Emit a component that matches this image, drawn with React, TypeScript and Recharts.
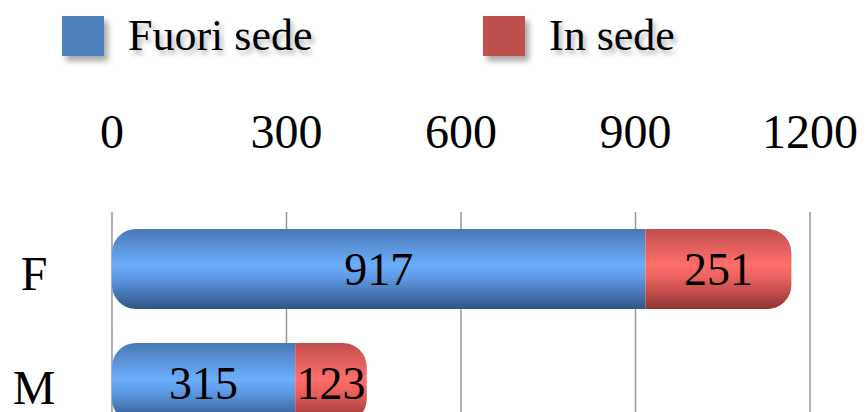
import React from 'react';
import { BarChart, Bar, XAxis, YAxis, CartesianGrid, Legend, LabelList } from 'recharts';

const categories = ['F', 'M'];
const fuoriSede = [917, 315];
const inSede = [251, 123];
const ticks = [0, 300, 600, 900, 1200];

const data = categories.map((name, i) => ({ name, fuori: fuoriSede[i], sede: inSede[i] }));

const FONT = "'Liberation Serif', 'DejaVu Serif', serif";

function CatTick({ y, payload }: any) {
  return (
    <text x={34} y={y + 4} textAnchor="middle" dominantBaseline="central" fontFamily={FONT} fontSize={48} fill="#000">
      {payload.value}
    </text>
  );
}

function LegendBox() {
  const item = (left: number, color: string, label: string) => (
    <div style={{ position: 'absolute', left, top: 16, display: 'flex', alignItems: 'center' }}>
      <div style={{ width: 42, height: 40, background: color, boxShadow: '4px 5px 6px rgba(0,0,0,0.35)' }} />
      <span style={{ marginLeft: 24, fontFamily: FONT, fontSize: 44, lineHeight: '40px', color: '#000', textShadow: '3px 4px 5px rgba(0,0,0,0.3)' }}>
        {label}
      </span>
    </div>
  );
  return (
    <div style={{ position: 'relative', width: 868, height: 70 }}>
      {item(62, '#4f81bd', 'Fuori sede')}
      {item(483, '#c0504d', 'In sede')}
    </div>
  );
}

export default function App() {
  return (
    <div style={{ position: 'fixed', left: 0, top: 0, width: 868, height: 440, background: '#fff' }}>
      <BarChart
        width={868}
        height={440}
        data={data}
        layout="vertical"
        margin={{ top: 0, right: 58, bottom: 0, left: 0 }}
        barSize={80}
      >
        <defs>
          <linearGradient id="blueCyl" x1="0" y1="0" x2="0" y2="1">
            <stop offset="0%" stopColor="#4a78b4" />
            <stop offset="45%" stopColor="#6caefc" />
            <stop offset="60%" stopColor="#5f9be6" />
            <stop offset="100%" stopColor="#2f5585" />
          </linearGradient>
          <linearGradient id="redCyl" x1="0" y1="0" x2="0" y2="1">
            <stop offset="0%" stopColor="#c0504d" />
            <stop offset="45%" stopColor="#ff6e6a" />
            <stop offset="60%" stopColor="#ec625e" />
            <stop offset="100%" stopColor="#8e3532" />
          </linearGradient>
        </defs>
        <Legend verticalAlign="top" content={() => <LegendBox />} />
        <CartesianGrid horizontal={false} stroke="#9a9a9a" strokeWidth={1.5} />
        <XAxis
          type="number"
          orientation="top"
          domain={[0, 1200]}
          ticks={ticks}
          height={142}
          axisLine={false}
          tickLine={false}
          tickSize={0}
          tickMargin={64}
          tick={{ fontFamily: FONT, fontSize: 48, fill: '#000' }}
        />
        <YAxis type="category" dataKey="name" width={112} axisLine={false} tickLine={false} tick={<CatTick />} />
        <Bar dataKey="fuori" stackId="a" fill="url(#blueCyl)" radius={[24, 0, 0, 24]} isAnimationActive={false}>
          <LabelList dataKey="fuori" position="center" fontFamily={FONT} fontSize={46} fill="#000" />
        </Bar>
        <Bar dataKey="sede" stackId="a" fill="url(#redCyl)" radius={[0, 24, 24, 0]} isAnimationActive={false}>
          <LabelList dataKey="sede" position="center" fontFamily={FONT} fontSize={46} fill="#000" />
        </Bar>
      </BarChart>
    </div>
  );
}
